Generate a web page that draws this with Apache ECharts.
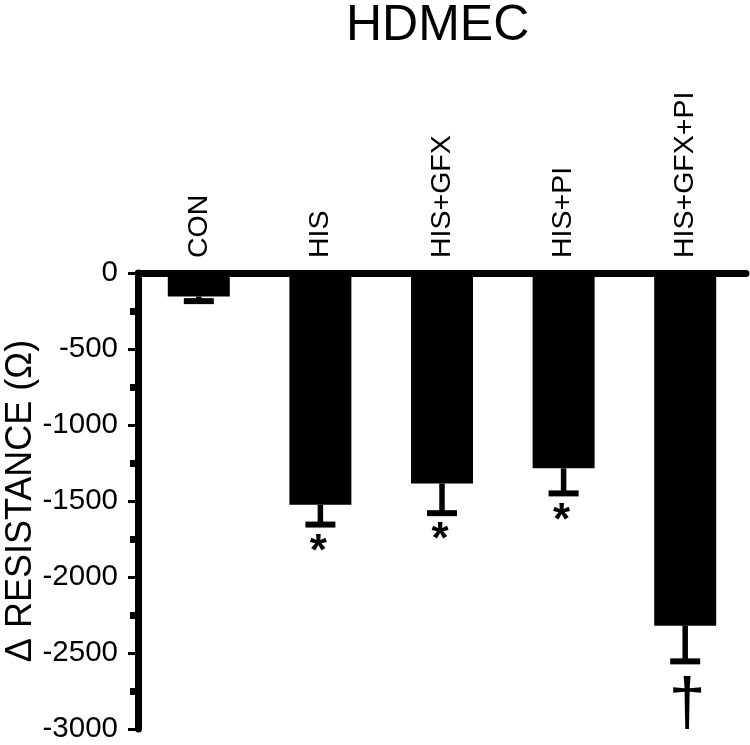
<!DOCTYPE html>
<html lang="en">
<head>
  <meta charset="UTF-8">
  <title>HDMEC resistance</title>
  <script src="https://cdn.jsdelivr.net/npm/echarts@6/dist/echarts.min.js"></script>
  <style>
    html, body { margin: 0; padding: 0; background: #fff; }
    #chart { width: 750px; height: 745px; }
  </style>
</head>
<body>
  <div id="chart"></div>
  <script>
    // values (ohms)
    const categories = ['CON', 'HIS', 'HIS+GFX', 'HIS+PI', 'HIS+GFX+PI'];
    const means = [-155, -1525, -1385, -1285, -2320];
    const sem = [30, 130, 195, 165, 235];
    const marks = ['', '*', '*', '*', '\u2020'];

    const font = '"Liberation Sans", Arial, Helvetica, sans-serif';
    const chart = echarts.init(document.getElementById('chart'));

    const errData = categories.map((c, i) => [i, means[i], means[i] - sem[i]]);

    function renderErr(params, api) {
      const i = api.value(0);
      const top = api.coord([i, api.value(1)]);
      const end = api.coord([i, api.value(2)]);
      const mark = marks[i];
      const children = [
        { type: 'line', shape: { x1: top[0], y1: top[1], x2: end[0], y2: end[1] },
          style: { stroke: '#000', lineWidth: 5.5 } },
        { type: 'line', shape: { x1: end[0] - 15, y1: end[1], x2: end[0] + 15, y2: end[1] },
          style: { stroke: '#000', lineWidth: 6 } }
      ];
      if (mark) {
        const isDagger = mark === '\u2020';
        children.push({
          type: 'text', x: end[0] + (isDagger ? 2 : -2), y: end[1] + (isDagger ? 44 : 28),
          style: {
            text: mark, fill: '#000', fontFamily: font,
            fontSize: isDagger ? 66 : 44, fontWeight: isDagger ? 'normal' : 'bold',
            align: 'center', verticalAlign: 'middle'
          }
        });
      }
      return { type: 'group', children: children };
    }

    const option = {
      animation: false,
      title: {
        text: 'HDMEC', left: 341, top: -4,
        textStyle: { fontFamily: font, fontSize: 50, fontWeight: 'normal', color: '#000' }
      },
      grid: { left: 138, right: 4, top: 273, bottom: 16, containLabel: false, outerBoundsMode: 'none' },
      xAxis: {
        type: 'category', data: categories, position: 'top',
        axisLine: { lineStyle: { color: '#000', width: 7 } },
        axisTick: { show: false },
        axisLabel: { rotate: 90, margin: 15, color: '#000', fontSize: 28.5, fontFamily: font, interval: 0 }
      },
      yAxis: {
        type: 'value', min: -3000, max: 0, interval: 500,
        name: '\u0394 RESISTANCE (\u03A9)', nameLocation: 'middle', nameGap: 99, nameRotate: 90,
        nameMoveOverlap: false,
        nameTextStyle: { fontFamily: font, fontSize: 36, color: '#000' },
        axisLine: { show: true, lineStyle: { color: '#000', width: 7 } },
        axisTick: { show: true, length: 10, lineStyle: { color: '#000', width: 3 } },
        minorTick: { show: true, splitNumber: 2, length: 8, lineStyle: { color: '#000', width: 7 } },
        splitLine: { show: false },
        axisLabel: {
          margin: 20, color: '#000', fontSize: 29.5, fontFamily: font,
          formatter: v => String(v)
        }
      },
      series: [
        {
          type: 'bar', data: means, barWidth: 62,
          itemStyle: { color: '#000' }
        },
        {
          type: 'custom', data: errData, renderItem: renderErr,
          encode: { x: 0, y: [1, 2] }, z: 3
        }
      ]
    };
    chart.setOption(option);
  </script>
</body>
</html>
